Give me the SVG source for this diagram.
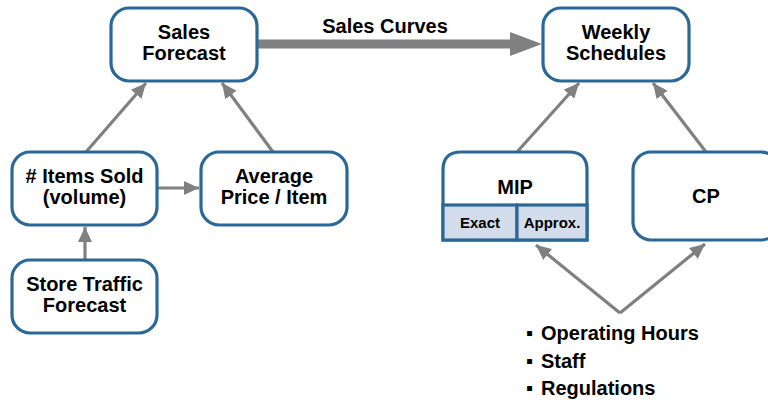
<svg xmlns="http://www.w3.org/2000/svg" width="768" height="403" viewBox="0 0 768 403">
<defs>
<style>
.box{fill:#ffffff;stroke:#2b6797;stroke-width:3.2}
.cell{fill:#d3dcea;stroke:#2b6797;stroke-width:3.2}
.t{font-family:"Liberation Sans",Arial,sans-serif;font-weight:bold;font-size:20px;fill:#000;text-anchor:middle}
.s{font-family:"Liberation Sans",Arial,sans-serif;font-weight:bold;font-size:15px;fill:#000;text-anchor:middle}
.b{font-family:"Liberation Sans",Arial,sans-serif;font-weight:bold;font-size:20px;fill:#000}
.c{fill:none;stroke:#808080;stroke-width:3.2}
</style>
<marker id="ah" markerUnits="userSpaceOnUse" markerWidth="16" markerHeight="14" viewBox="0 0 16 14" refX="15" refY="7" orient="auto">
<path d="M0,0 L15,7 L0,14 Z" fill="#808080"/>
</marker>
</defs>
<g id="connectors">
<path class="c" d="M86,152 L146,83" marker-end="url(#ah)"/>
<path class="c" d="M273,152 L222,83" marker-end="url(#ah)"/>
<path class="c" d="M158,188 L199,188" marker-end="url(#ah)"/>
<path class="c" d="M85,259 L85,227" marker-end="url(#ah)"/>
<path class="c" d="M517,152 L579,83" marker-end="url(#ah)"/>
<path class="c" d="M706,152 L653,83" marker-end="url(#ah)"/>
<path class="c" d="M620,313 L536,245" marker-end="url(#ah)"/>
<path class="c" d="M620,313 L705,244" marker-end="url(#ah)"/>
<polygon points="258,39.5 510,39.5 510,32 542,44 510,56 510,48.5 258,48.5" fill="#808080"/>
<text class="t" x="385" y="33">Sales Curves</text>
</g>
<g id="sales-forecast">
<rect class="box" x="111" y="8" width="146" height="73" rx="18"/>
<text class="t" x="184" y="39">Sales</text>
<text class="t" x="184" y="60">Forecast</text>
</g>
<g id="weekly-schedules">
<rect class="box" x="543" y="8" width="146" height="73" rx="18"/>
<text class="t" x="616" y="39">Weekly</text>
<text class="t" x="616" y="60">Schedules</text>
</g>
<g id="items-sold">
<rect class="box" x="12" y="152" width="145" height="73" rx="18"/>
<text class="t" x="84.5" y="183"># Items Sold</text>
<text class="t" x="84.5" y="204">(volume)</text>
</g>
<g id="average-price">
<rect class="box" x="201" y="152" width="146" height="73" rx="18"/>
<text class="t" x="274" y="183">Average</text>
<text class="t" x="274" y="204">Price / Item</text>
</g>
<g id="store-traffic">
<rect class="box" x="12" y="260" width="145" height="73" rx="18"/>
<text class="t" x="84.5" y="291">Store Traffic</text>
<text class="t" x="84.5" y="312">Forecast</text>
</g>
<g id="mip">
<path class="box" d="M443,240 L443,170 Q443,152 461,152 L569,152 Q587,152 587,170 L587,240 Z"/>
<rect class="cell" x="443" y="205" width="74" height="35"/>
<rect class="cell" x="517" y="205" width="70" height="35"/>
<text class="t" x="515" y="194">MIP</text>
<text class="s" x="480" y="228">Exact</text>
<text class="s" x="552" y="228">Approx.</text>
</g>
<g id="cp">
<rect class="box" x="633" y="152" width="146" height="88" rx="18"/>
<text class="t" x="706" y="203">CP</text>
</g>
<g id="constraints">
<text class="b" x="526" y="340">▪ <tspan x="541">Operating Hours</tspan></text>
<text class="b" x="526" y="368">▪ <tspan x="541">Staff</tspan></text>
<text class="b" x="526" y="395">▪ <tspan x="541">Regulations</tspan></text>
</g>
</svg>
